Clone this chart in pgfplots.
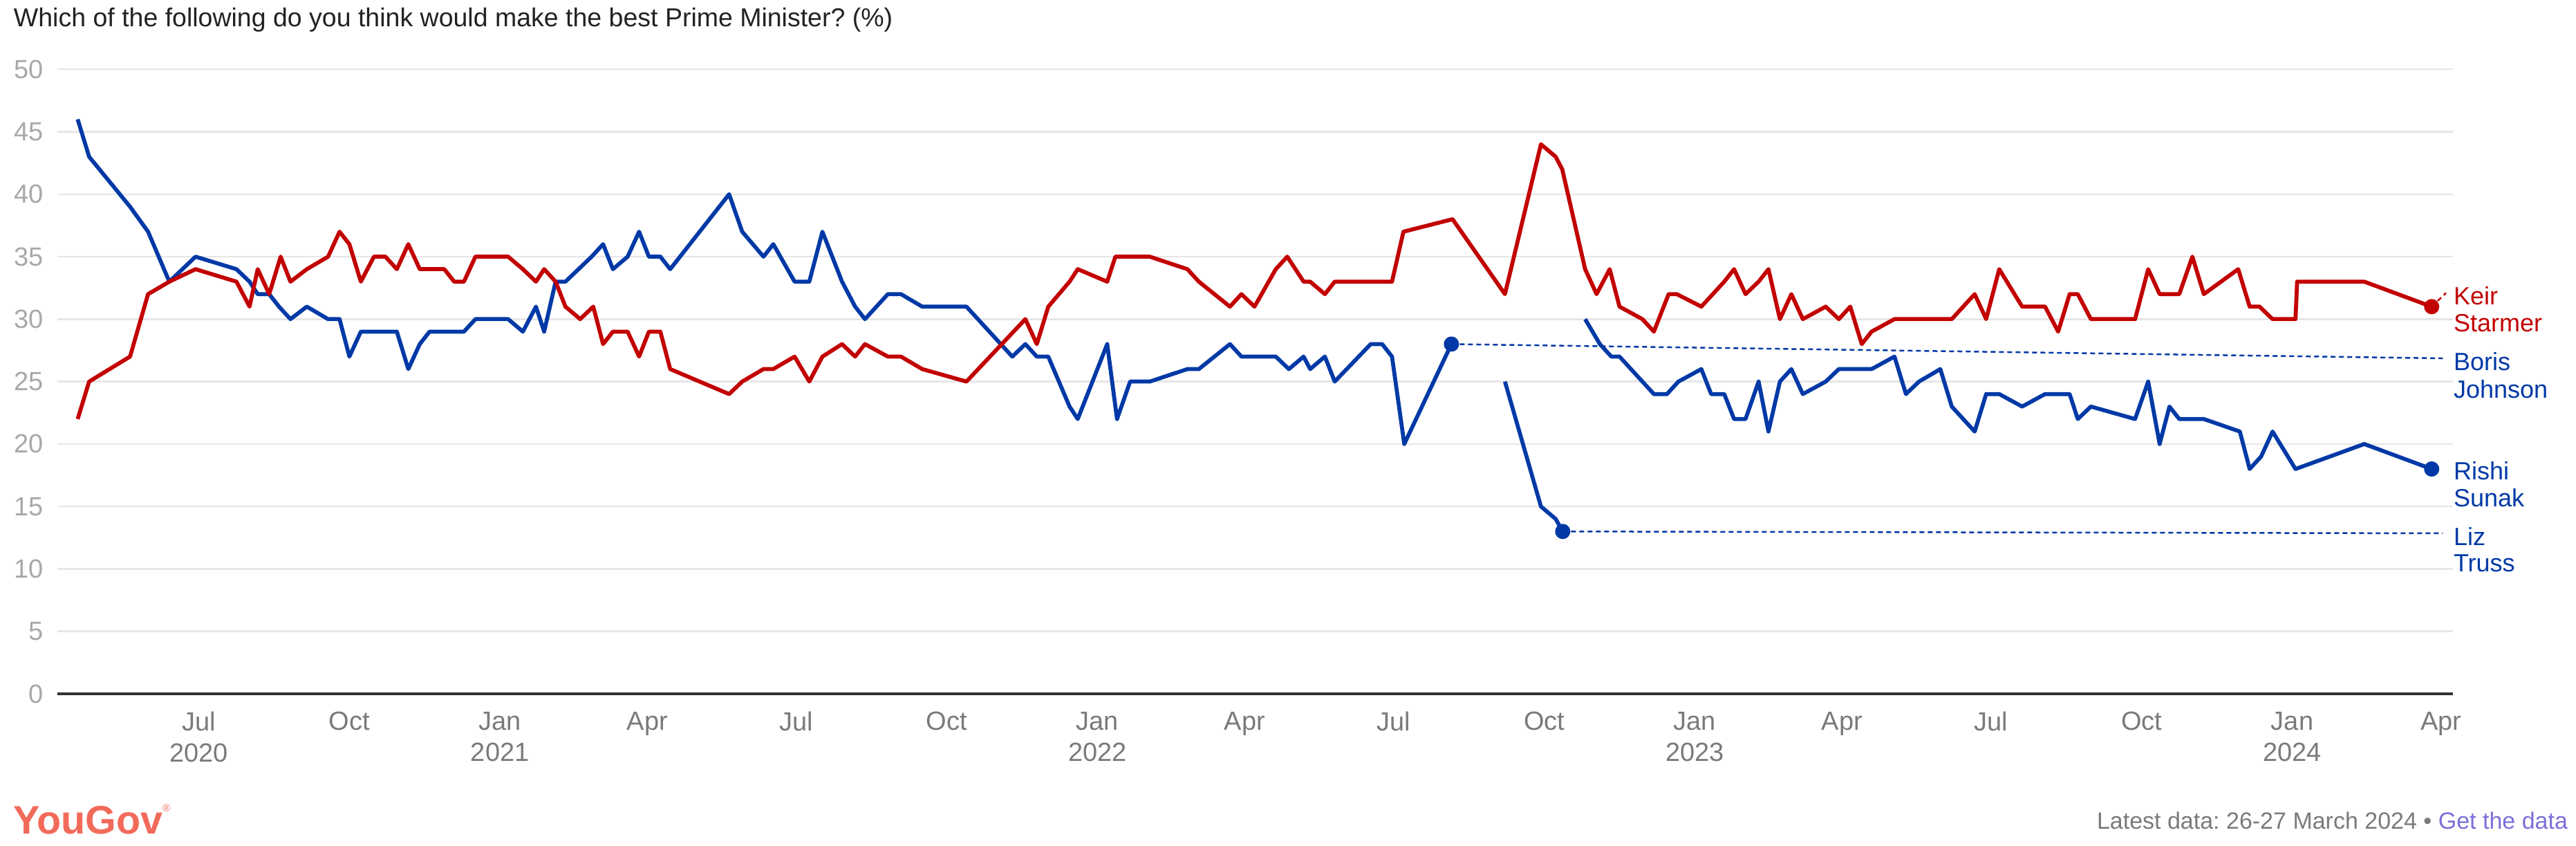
\documentclass[border=0pt]{standalone}
\usepackage{pgfplots}
\pgfplotsset{compat=1.18}
\usepackage{fontspec}
\setmainfont{Liberation Sans}
\definecolor{lab}{HTML}{C20000}
\definecolor{con}{HTML}{0039A6}
\definecolor{gridc}{HTML}{E6E6E6}
\definecolor{tickc}{HTML}{A8A8A8}
\definecolor{monc}{HTML}{7A7A7A}
\definecolor{axc}{HTML}{333333}
\definecolor{titc}{HTML}{222222}
\definecolor{yg}{HTML}{F26A5A}
\definecolor{linkc}{HTML}{7B6FD8}
\begin{document}
\frenchspacing
\begin{tikzpicture}
\path[use as bounding box] (0,0) rectangle (745.2pt,244.4pt);
\node[anchor=base west, inner sep=0pt, text=titc, font=\fontsize{7.5}{9}\selectfont] at (3.8pt,236.8pt) {Which of the following do you think would make the best Prime Minister? (\%)};
\begin{axis}[
  at={(16.6pt,43.8pt)}, anchor=south west,
  width=693pt, height=180.56pt, scale only axis,
  xmin=95.6, xmax=1559.2, ymin=0, ymax=50,
  axis line style={draw=none},
  tick style={draw=none}, major tick length=0pt,
  ymajorgrids, grid style={gridc, line width=0.5pt},
  ytick={0,5,...,50},
  /pgf/number format/assume math mode=true,
  yticklabel style={font=\fontsize{7.6}{9}\selectfont, text=tickc, anchor=east, inner sep=0pt, xshift=-3.8pt},
  xtick={182,274,366,456,547,639,731,821,912,1004,1096,1186,1277,1369,1461,1552},
  xticklabels={{Jul\\2020},Oct,{Jan\\2021},Apr,Jul,Oct,{Jan\\2022},Apr,Jul,Oct,{Jan\\2023},Apr,Jul,Oct,{Jan\\2024},Apr},
  xticklabel style={font=\fontsize{7.6}{9}\selectfont, text=monc, align=center, anchor=north, inner sep=0pt, yshift=-5pt},
  clip=false,
]
% Boris Johnson
\addplot[con, line width=1.15pt, line join=round] table {
108 46
115 43
140 39
151 37
164 33
180 35
205 34
213 33
218 32
225 32
231 31
238 30
248 31
261 30
268 30
274 27
281 29
303 29
310 26
317 28
323 29
344 29
351 30
371 30
380 29
388 31
393 29
400 33
406 33
422 35
429 36
435 34
444 35
451 37
457 35
464 35
470 34
506 40
514 37
527 35
533 36
546 33
555 33
563 37
575 33
583 31
589 30
603 32
611 32
624 31
651 31
679 27
687 28
694 27
701 27
714 23
719 22
737 28
743 22
751 25
763 25
786 26
793 26
812 28
819 27
840 27
848 26
857 27
861 26
870 27
876 25
898 28
905 28
911 27
918.5 20
947.3 28
};
% Liz Truss
\addplot[con, line width=1.15pt, line join=round] table {
980 25
1002 15
1011 14
1015.3 13
};
% Rishi Sunak
\addplot[con, line width=1.15pt, line join=round] table {
1029 30
1038 28
1045 27
1050 27
1071 24
1079 24
1086 25
1100 26
1106 24
1114 24
1120 22
1127 22
1135 25
1141 21
1148 25
1155 26
1162 24
1176 25
1184 26
1204 26
1218 27
1225 24
1233 25
1246 26
1253 23
1267 21
1274 24
1282 24
1296 23
1310 24
1325 24
1330 22
1338 23
1365 22
1373 25
1380 20
1386 23
1392 22
1407 22
1429 21
1435 18
1442 19
1449 21
1463 18
1505 20
1546.2 18
};
% Keir Starmer
\addplot[lab, line width=1.15pt, line join=round] table {
108 22
115 25
140 27
151 32
164 33
180 34
205 33
213 31
218 34
225 32
232 35
238 33
248 34
261 35
268 37
274 36
281 33
289 35
296 35
303 34
310 36
317 34
332 34
338 33
344 33
351 35
371 35
380 34
388 33
393 34
400 33
406 31
415 30
423 31
429 28
435 29
444 29
451 27
457 29
464 29
470 26
506 24
514 25
527 26
533 26
546 27
555 25
563 27
575 28
583 27
589 28
603 27
611 27
624 26
651 25
687 30
694 28
701 31
714 33
719 34
737 33
742 35
763 35
786 34
793 33
812 31
819 32
827 31
840 34
847 35
857 33
861 33
870 32
876 33
911 33
918 37
948 38
980 32
1002 44
1011 43
1015 42
1029 34
1036 32
1044 34
1050 31
1064 30
1071 29
1080 32
1085 32
1100 31
1107 32
1114 33
1120 34
1127 32
1135 33
1141 34
1148 30
1155 32
1162 30
1176 31
1184 30
1191 31
1198 28
1204 29
1218 30
1253 30
1267 32
1274 30
1282 34
1296 31
1310 31
1318 29
1325 32
1330 32
1338 30
1365 30
1373 34
1380 32
1392 32
1400 35
1407 32
1428 34
1435 31
1441 31
1449 30
1463 30
1464 33
1505 33
1546.2 31
};
% leader lines
\addplot[con, line width=0.5pt, dash pattern=on 1.4pt off 1pt] table {
947.3 28
1553 26.86
};
\addplot[con, line width=0.5pt, dash pattern=on 1.4pt off 1pt] table {
1015.3 13
1553 12.85
};
\addplot[lab, line width=0.5pt, dash pattern=on 1.4pt off 1pt] table {
1546.2 31
1555 32.1
};
% end markers
\addplot[con, only marks, mark=*, mark size=2pt] table {
947.3 28
1015.3 13
1546.2 18
};
\addplot[lab, only marks, mark=*, mark size=2pt] table {
1546.2 31
};
\draw[axc, line width=0.8pt] (axis cs:95.6,0) -- (axis cs:1559.2,0);
\end{axis}
% direct labels
\begin{scope}[every node/.style={anchor=base west, inner sep=0pt, font=\fontsize{7.2}{8}\selectfont}]
\node[text=lab] at (709.6pt,156.26pt) {Keir};
\node[text=lab] at (709.6pt,148.54pt) {Starmer};
\node[text=con] at (709.6pt,137.4pt) {Boris};
\node[text=con] at (709.6pt,129.4pt) {Johnson};
\node[text=con] at (709.6pt,105.8pt) {Rishi};
\node[text=con] at (709.6pt,97.86pt) {Sunak};
\node[text=con] at (709.6pt,86.8pt) {Liz};
\node[text=con] at (709.6pt,79.06pt) {Truss};
\end{scope}
% footer
\node[anchor=base west, inner sep=0pt, text=yg, font=\fontsize{11.5}{12}\selectfont\bfseries] at (3.6pt,3.4pt) {YouGov\raisebox{0.55em}{\fontsize{3}{3}\selectfont\normalfont\textregistered}};
\node[anchor=base east, inner sep=0pt, text=monc, font=\fontsize{6.8}{8}\selectfont] at (743pt,4.8pt) {Latest data: 26-27 March 2024 \textbullet{} \textcolor{linkc}{Get the data}};
\end{tikzpicture}
\end{document}
